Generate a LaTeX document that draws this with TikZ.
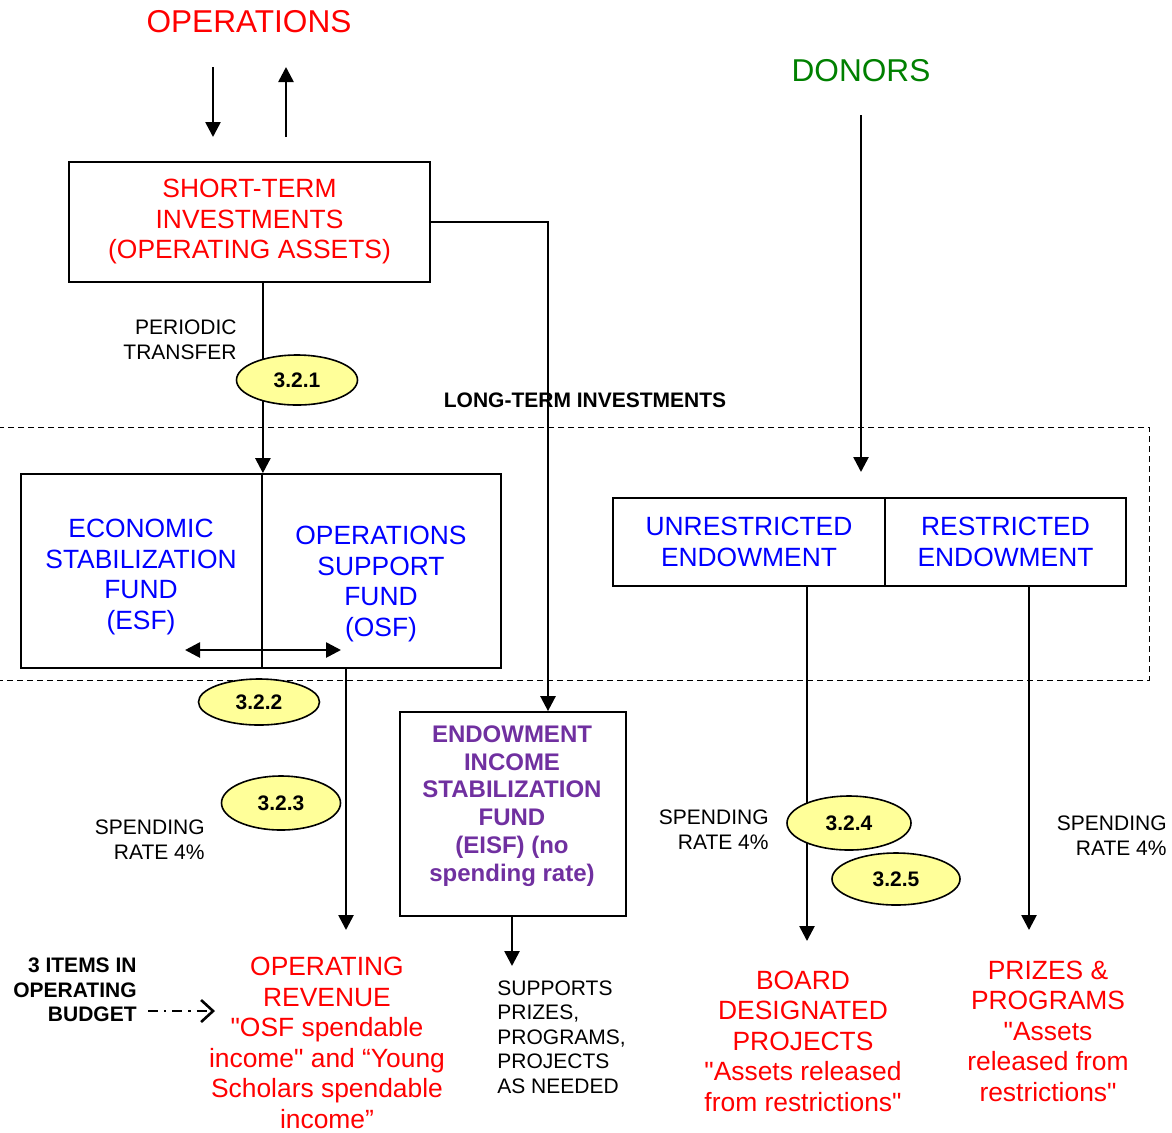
\documentclass[tikz,border=0pt]{standalone}
\usepackage{fontspec}
\setmainfont{Liberation Sans}
\usepackage{tikz}
\usetikzlibrary{arrows.meta, positioning, shapes.geometric, calc}

\definecolor{opsred}{RGB}{255,0,0}
\definecolor{fundblue}{RGB}{0,0,255}
\definecolor{donorgreen}{RGB}{0,128,0}
\definecolor{eisfpurple}{RGB}{112,48,160}
\definecolor{tagyellow}{RGB}{255,255,153}

\newcommand{\dq}{\textquotedbl}

\tikzset{
  fundbox/.style={draw, line width=0.9pt, inner sep=0pt},
  flow/.style={line width=1.3pt, -{Triangle[length=7.5pt, width=7.5pt]}},
  tag/.style={ellipse, draw, line width=0.8pt, fill=tagyellow, inner sep=0pt,
    font=\fontsize{10.5}{12}\selectfont\bfseries},
  heading/.style={inner sep=0pt, font=\fontsize{15.8}{18}\selectfont},
  biglbl/.style={inner sep=0pt, align=center, font=\fontsize{13.2}{15.25}\selectfont},
  smalllbl/.style={inner sep=0pt, align=right, font=\fontsize{10.5}{12.3}\selectfont},
}

\begin{document}
\begin{tikzpicture}[x=0.5pt, y=-0.5pt]
    \useasboundingbox (0,0) rectangle (1172,1132);

    % Long-term investments frame
    \draw[dash pattern=on 3pt off 2pt, line width=0.5pt] (-10,427) rectangle (1149,680);
    \node[inner sep=0pt, font=\fontsize{10.5}{12}\selectfont\bfseries] (lti) at (585,400) {LONG-TERM INVESTMENTS};

    % Operations and short-term investments
    \node[heading, text=opsred] (ops) at (249,22) {OPERATIONS};
    \coordinate (opsinA) at (213,67);
    \coordinate (opsinB) at (213,137);
    \coordinate (opsoutA) at (286,137);
    \coordinate (opsoutB) at (286,67);
    \draw[flow] (opsinA) -- (opsinB);
    \draw[flow] (opsoutA) -- (opsoutB);

    \node[fundbox, biglbl, text=opsred, minimum width=180.5pt, minimum height=60pt] (st) at (249.5,222)
        {SHORT-TERM\\INVESTMENTS\\(OPERATING ASSETS)};

    % ESF / OSF pair
    \node[fundbox, minimum width=120.5pt, minimum height=97pt] (esf) at (141.5,571) {};
    \node[fundbox, minimum width=119.5pt, minimum height=97pt] (osf) at (381.5,571) {};
    \node[biglbl, text=fundblue] (esflbl) at (141,577) {ECONOMIC\\STABILIZATION\\FUND\\(ESF)};
    \node[biglbl, text=fundblue] (osflbl) at (381,584) {OPERATIONS\\SUPPORT\\FUND\\(OSF)};
    \coordinate (swapL) at (185,650);
    \coordinate (swapR) at (341,650);
    \draw[line width=1.3pt, {Triangle[length=7.5pt, width=7.5pt]}-{Triangle[length=7.5pt, width=7.5pt]}] (swapL) -- (swapR);

    % Periodic transfer
    \draw[flow] (st.south -| esf.east) -- (esf.north east);
    \node[smalllbl, anchor=east] (ptlbl) at (237,340) {PERIODIC\\TRANSFER};

    % Endowment income stabilization fund
    \node[fundbox, minimum width=113pt, minimum height=102pt] (eisf) at (513,814) {};
    \node[biglbl, text=eisfpurple, font=\fontsize{12}{13.9}\selectfont\bfseries] (eisflbl) at (512,806)
        {ENDOWMENT\\INCOME\\STABILIZATION\\FUND\\(EISF) (no\\spending rate)};
    \coordinate (ltbend) at (548,222);
    \draw[flow] (st.east) -- (ltbend) -- (ltbend |- eisf.north);
    \coordinate (supptip) at (512,966);
    \draw[flow] (supptip |- eisf.south) -- (supptip);
    \node[smalllbl, align=left, anchor=west] (supp) at (497,1037) {SUPPORTS\\PRIZES,\\PROGRAMS,\\PROJECTS\\AS NEEDED};

    % Operating revenue
    \coordinate (revtip) at (346,930);
    \draw[flow] (revtip |- osf.south) -- (revtip);
    \node[smalllbl, anchor=east] (sp1) at (205,840) {SPENDING\\RATE 4\%};
    \node[biglbl, text=opsred] (rev) at (327,1043)
        {OPERATING\\REVENUE\\\dq OSF spendable\\income\dq{} and “Young\\Scholars spendable\\income”};
    \node[smalllbl, anchor=east, font=\fontsize{10.5}{12.3}\selectfont\bfseries] (items) at (137,990)
        {3 ITEMS IN\\OPERATING\\BUDGET};
    \coordinate (budA) at (148,1011);
    \coordinate (budB) at (215,1011);
    \draw[line width=1pt, dash pattern=on 5pt off 3pt on 1.2pt off 3pt,
        -{Straight Barb[length=6pt, width=11pt, line width=1.3pt]}] (budA) -- (budB);

    % Donors and endowments
    \node[heading, text=donorgreen] (donors) at (861,71) {DONORS};
    \coordinate (donA) at (861,115);
    \coordinate (donB) at (861,472);
    \draw[flow] (donA) -- (donB);
    \node[fundbox, biglbl, text=fundblue, minimum width=136pt, minimum height=44pt] (unr) at (749,542)
        {UNRESTRICTED\\ENDOWMENT};
    \node[fundbox, biglbl, text=fundblue, minimum width=120.5pt, minimum height=44pt] (res) at (1005.5,542)
        {RESTRICTED\\ENDOWMENT};
    \coordinate (bdtip) at (807,941);
    \coordinate (pptip) at (1029,930);
    \draw[flow] (bdtip |- unr.south) -- (bdtip);
    \draw[flow] (pptip |- res.south) -- (pptip);
    \node[smalllbl, anchor=east] (sp2) at (769,830) {SPENDING\\RATE 4\%};
    \node[smalllbl, anchor=east] (sp3) at (1167,836) {SPENDING\\RATE 4\%};
    \node[biglbl, text=opsred] (board) at (803,1041)
        {BOARD\\DESIGNATED\\PROJECTS\\\dq Assets released\\from restrictions\dq};
    \node[biglbl, text=opsred] (prizes) at (1048,1031)
        {PRIZES \&\\PROGRAMS\\\dq Assets\\released from\\restrictions\dq};

    % Section tags
    \node[tag, minimum width=60.5pt, minimum height=25pt] (t321) at (297,380) {3.2.1};
    \node[tag, minimum width=60.5pt, minimum height=23pt] (t322) at (259,702) {3.2.2};
    \node[tag, minimum width=59.5pt, minimum height=27pt] (t323) at (281,803) {3.2.3};
    \node[tag, minimum width=62pt, minimum height=27pt] (t324) at (849,823) {3.2.4};
    \node[tag, minimum width=64pt, minimum height=26pt] (t325) at (896,879) {3.2.5};
\end{tikzpicture}
\end{document}
